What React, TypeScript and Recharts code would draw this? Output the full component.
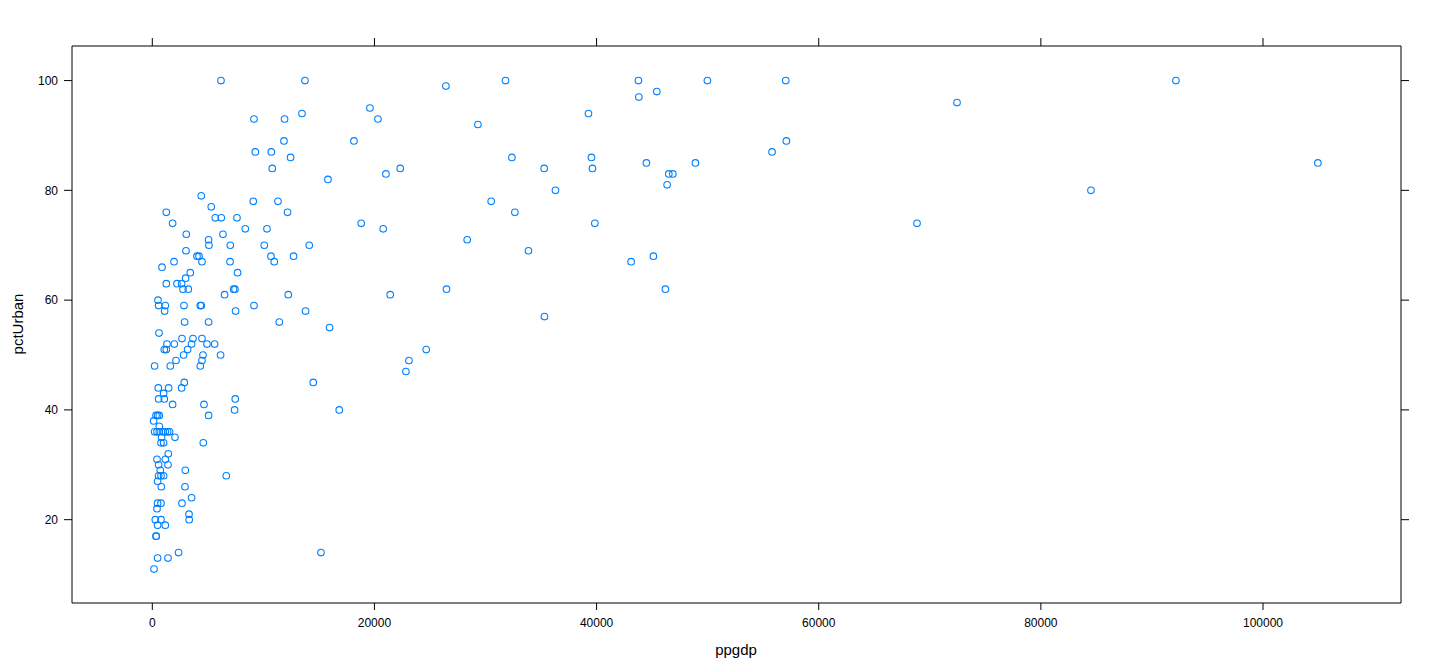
import React from "react";
import { ScatterChart, Scatter, XAxis, YAxis } from "recharts";

const ppgdp: number[] = [
  567, 1080, 1827, 4653, 333, 477, 630, 5067, 117, 630,
  207, 423, 630, 963, 1170, 1377, 1557, 2043, 837, 783,
  1017, 4590, 1440, 423, 1170, 567, 1413, 720, 2970, 567,
  783, 1017, 477, 810, 2943, 3537, 477, 783, 2673, 423,
  3303, 3320, 270, 783, 477, 1170, 333, 360, 477, 1413,
  2367, 153, 3060, 5067, 5100, 3033, 4023, 4203, 4473, 1953,
  873, 3420, 2997, 1260, 2223, 2637, 2763, 3240, 513, 567,
  1170, 1107, 2853, 4320, 4410, 2907, 5067, 603, 1323, 1980,
  2673, 3663, 4473, 4923, 3537, 1080, 1260, 3177, 4563, 2817,
  4473, 2133, 4320, 207, 1620, 540, 1467, 2880, 2637, 1017,
  4410, 5310, 1260, 1827, 7470, 7407, 6660, 6363, 8370, 10323,
  7020, 10080, 10683, 10980, 12717, 7000, 7677, 7317, 7443, 6507,
  12240, 9153, 7497, 11430, 5607, 6147, 6183, 9153, 11907, 11853,
  9270, 10710, 12447, 10800, 9090, 11313, 12177, 5670, 6210, 7623,
  13743, 13473, 19593, 20313, 18153, 22320, 21033, 15813, 18810, 20790,
  14130, 21420, 13797, 15957, 14490, 16830, 15183, 26433, 31797, 39267,
  29313, 32373, 39537, 35280, 39627, 36297, 30510, 32643, 39843, 28350,
  33867, 26487, 35307, 24660, 23103, 22833, 43767, 49977, 57033, 43803,
  45423, 57087, 55800, 44487, 48897, 46503, 46863, 46350, 43110, 45117,
  46197, 68850, 72450, 84510, 92160, 104940,
];

const pctUrban: number[] = [
  42, 42, 41, 41, 39, 39, 39, 39, 38, 37,
  36, 36, 36, 36, 36, 36, 36, 35, 35, 34,
  34, 34, 32, 31, 31, 30, 30, 29, 29, 28,
  28, 28, 27, 26, 26, 24, 23, 23, 23, 22,
  21, 20, 20, 20, 19, 19, 17, 17, 13, 13,
  14, 11, 72, 71, 70, 69, 68, 68, 67, 67,
  66, 65, 64, 63, 63, 63, 62, 62, 60, 59,
  59, 58, 59, 59, 59, 56, 56, 54, 52, 52,
  53, 53, 53, 52, 52, 51, 51, 51, 50, 50,
  49, 49, 48, 48, 48, 44, 44, 45, 44, 43,
  79, 77, 76, 74, 42, 40, 28, 72, 73, 73,
  70, 70, 68, 67, 68, 67, 65, 62, 62, 61,
  61, 59, 58, 56, 52, 50, 100, 93, 93, 89,
  87, 87, 86, 84, 78, 78, 76, 75, 75, 75,
  100, 94, 95, 93, 89, 84, 83, 82, 74, 73,
  70, 61, 58, 55, 45, 40, 14, 99, 100, 94,
  92, 86, 86, 84, 84, 80, 78, 76, 74, 71,
  69, 62, 57, 51, 49, 47, 100, 100, 100, 97,
  98, 89, 87, 85, 85, 83, 83, 81, 67, 68,
  62, 74, 96, 80, 100, 85,
];

const xTicks: number[] = [0, 20000, 40000, 60000, 80000, 100000];
const yTicks: number[] = [20, 40, 60, 80, 100];
const xDomain: [number, number] = [-7230, 112424];
const yDomain: [number, number] = [4.82, 106.3];

const data = ppgdp.map((x, i) => ({ ppgdp: x, pctUrban: pctUrban[i] }));

const FONT = "'Liberation Sans', Arial, Helvetica, sans-serif";
const tickStyle = { fontSize: 12, fill: "#000", fontFamily: FONT };
const axisLine = { stroke: "#000", strokeWidth: 1 };
const tickLine = { stroke: "#000", strokeWidth: 1 };

const Ring = (props: any) => {
  const { cx, cy } = props;
  if (cx == null || cy == null) return null;
  return <circle cx={cx} cy={cy} r={3.3} fill="none" stroke="#0080ff" strokeWidth={1.1} />;
};

export default function App() {
  return (
    <div style={{ position: "absolute", left: 0, top: 0, width: 1440, height: 672, background: "#fff" }}>
      <ScatterChart width={1440} height={672} margin={{ top: 0, right: 0, bottom: 0, left: 0 }}>
        <XAxis
          xAxisId="b"
          dataKey="ppgdp"
          type="number"
          domain={xDomain}
          ticks={xTicks}
          orientation="bottom"
          height={69}
          tickSize={7}
          tickMargin={8}
          tick={tickStyle}
          axisLine={axisLine}
          tickLine={tickLine}
          allowDataOverflow
        />
        <XAxis
          xAxisId="t"
          dataKey="ppgdp"
          type="number"
          domain={xDomain}
          ticks={xTicks}
          orientation="top"
          height={46}
          tickSize={8}
          tickFormatter={() => ""}
          axisLine={axisLine}
          tickLine={tickLine}
          allowDataOverflow
        />
        <YAxis
          yAxisId="l"
          dataKey="pctUrban"
          type="number"
          domain={yDomain}
          ticks={yTicks}
          orientation="left"
          width={72}
          tickSize={8}
          tickMargin={6}
          tick={tickStyle}
          axisLine={axisLine}
          tickLine={tickLine}
          allowDataOverflow
        />
        <YAxis
          yAxisId="r"
          dataKey="pctUrban"
          type="number"
          domain={yDomain}
          ticks={yTicks}
          orientation="right"
          width={39}
          tickSize={8}
          tickFormatter={() => ""}
          axisLine={axisLine}
          tickLine={tickLine}
          allowDataOverflow
        />
        <Scatter
          data={data}
          xAxisId="b"
          yAxisId="l"
          isAnimationActive={false}
          shape={Ring}
        />
      </ScatterChart>
      <div
        style={{
          position: "absolute",
          left: 686,
          width: 100,
          top: 641,
          textAlign: "center",
          fontFamily: FONT,
          fontSize: 15,
          color: "#000",
          lineHeight: "18px",
        }}
      >
        ppgdp
      </div>
      <div
        style={{
          position: "absolute",
          left: 18,
          top: 324,
          width: 0,
          height: 0,
          fontFamily: FONT,
          fontSize: 15,
          color: "#000",
        }}
      >
        <div
          style={{
            position: "absolute",
            left: -60,
            top: -9,
            width: 120,
            textAlign: "center",
            lineHeight: "18px",
            transform: "rotate(-90deg)",
          }}
        >
          pctUrban
        </div>
      </div>
    </div>
  );
}
